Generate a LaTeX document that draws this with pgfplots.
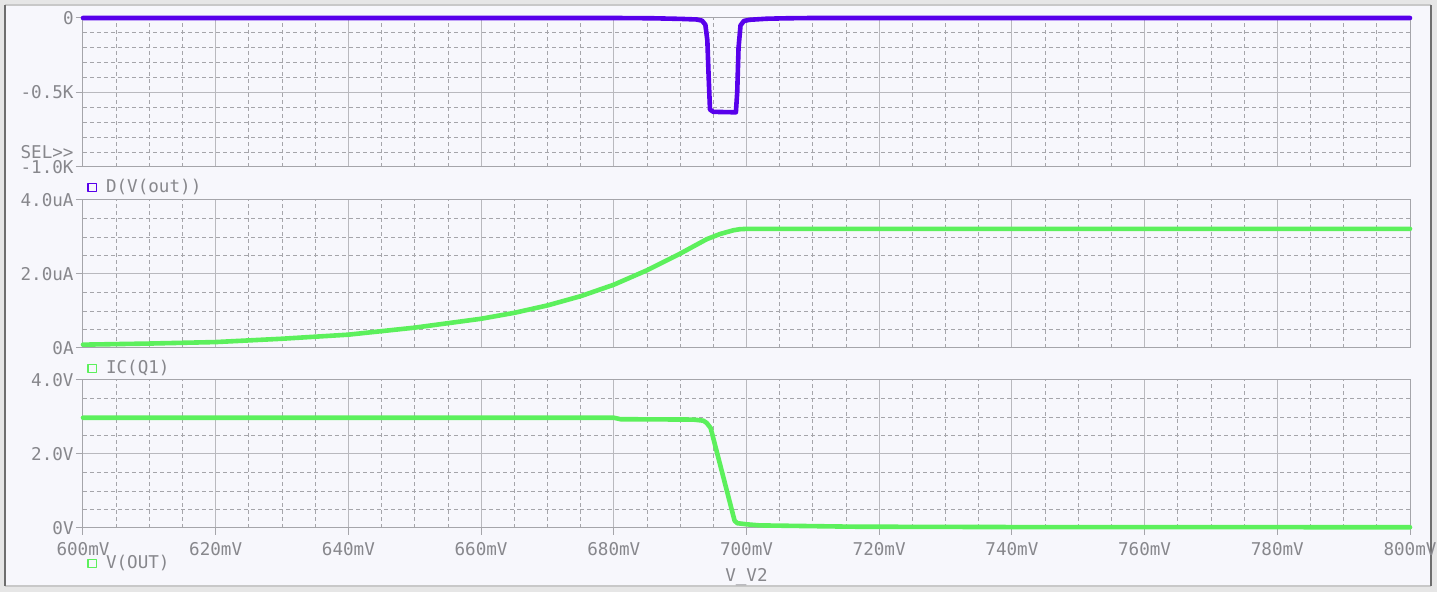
\documentclass[border=0pt]{standalone}
\usepackage{pgfplots}
\pgfplotsset{compat=1.18}
\usepackage{fontspec}
\setmonofont{DejaVu Sans Mono}
\definecolor{bgin}{RGB}{247,247,252}
\definecolor{bgout}{RGB}{230,230,230}
\definecolor{frameD}{RGB}{110,110,110}
\definecolor{frameL}{RGB}{200,200,200}
\definecolor{txt}{RGB}{135,135,140}
\definecolor{axl}{RGB}{165,165,170}
\definecolor{majg}{RGB}{185,185,190}
\definecolor{ming}{RGB}{165,165,170}
\definecolor{cpurple}{RGB}{88,0,235}
\definecolor{cgreen}{RGB}{92,240,92}
\newcommand{\lab}{\ttfamily\fontsize{8.8}{10}\selectfont}
\pgfplotsset{
  panel/.style={
    scale only axis, width=663.5pt, height=74.5pt,
    xmin=600, xmax=800, xtick={600,620,...,800}, minor x tick num=3,
    axis line style={axl, line width=0.5pt},
    grid=both,
    major grid style={majg, line width=0.5pt, solid},
    minor grid style={ming, line width=0.4pt, dash pattern=on 2pt off 1.5pt},
    tick align=outside, major tick length=3.5pt, minor tick length=0pt,
    tick style={axl, line width=0.5pt},
    ytick pos=left, xtick pos=bottom,
    ticklabel style={font=\lab, text=txt},
    yticklabel style={inner sep=1pt},
    clip=false,
    legend style={at={(axis description cs:0,0)}, anchor=north west, draw=none, fill=none,
      font=\lab, text=txt, xshift=1pt, yshift=-3pt, inner sep=1pt, /tikz/column sep=2.5pt},
    legend image code/.code={\draw[#1, line width=0.6pt, solid] (0pt,-2.1pt) rectangle (4.2pt,2.1pt);},
    legend cell align=left,
  },
  every axis plot/.append style={line width=2.3pt, line join=round, line cap=round, mark=none},
}
\begin{document}
\begin{tikzpicture}[x=1pt,y=1pt]
\useasboundingbox (0,0) rectangle (718.5,296);
\fill[bgout] (0,0) rectangle (718.5,296);
\fill[bgin] (2.5,3) rectangle (715.5,293.5);
\draw[frameL, line width=0.8pt] (2.5,293.5) -- (715.5,293.5);
\draw[frameL, line width=0.8pt] (2.5,3) -- (715.5,3);
\draw[frameD, line width=0.8pt] (2.5,3) -- (2.5,293.5);
\draw[frameD, line width=1.2pt] (715.5,3) -- (715.5,293.5);

% top panel
\begin{axis}[panel, at={(41.5pt,212.5pt)}, anchor=south west, height=74.5pt,
  ymin=-1000, ymax=0, ytick={-1000,-500,0}, yticklabels={-1.0K,-0.5K,0}, minor y tick num=4,
  xticklabels={}, xtick style={draw=none}]
\addplot[cpurple] coordinates {
 (600,0) (680,0) (686,-2) (690,-6) (692.5,-10) (693.3,-18) (693.8,-45) (694.1,-150) (694.3,-400) (694.5,-615)
 (695,-630) (698.4,-633) (698.6,-500) (698.8,-200) (699.1,-50) (699.6,-20) (700.5,-12) (703,-5) (706,-2) (710,0) (800,0)};
\addlegendentry{D(V(out))}
\node[font=\lab, text=txt, anchor=east, inner sep=1pt] at ([xshift=-3.5pt,yshift=7.5pt]axis description cs:0,0) {SEL>>};
\end{axis}

% middle panel
\begin{axis}[panel, at={(41.5pt,122pt)}, anchor=south west, height=74pt,
  ymin=0, ymax=4, ytick={0,2,4}, yticklabels={0A,2.0uA,4.0uA}, minor y tick num=3,
  xticklabels={}, xtick style={draw=none}]
\addplot[cgreen] coordinates {
 (600,0.09) (610,0.12) (620,0.16) (630,0.25) (640,0.36) (650,0.55) (660,0.79) (665,0.95)
 (670,1.15) (675,1.40) (680,1.71) (685,2.10) (690,2.55) (694,2.94) (696,3.08) (698,3.18)
 (699,3.21) (700,3.22) (800,3.22)};
\addlegendentry{IC(Q1)}
\end{axis}

% bottom panel
\begin{axis}[panel, at={(41.5pt,32pt)}, anchor=south west, height=74pt,
  ymin=0, ymax=4, ytick={0,2,4}, yticklabels={0V,2.0V,4.0V}, minor y tick num=3,
  xticklabels={600mV,620mV,640mV,660mV,680mV,700mV,720mV,740mV,760mV,780mV,800mV},
  xlabel={V\_V2}, xlabel style={font=\lab, text=txt, at={(axis description cs:0.5,0)}, anchor=center, yshift=-24.5pt},
  legend style={yshift=-7.5pt}]
\addplot[cgreen] coordinates {
 (600,2.98) (680,2.98) (681,2.94) (692,2.93) (693.5,2.90) (694,2.84) (694.6,2.70)
 (698.2,0.20) (698.6,0.13) (700,0.10) (702,0.07) (710,0.05) (716,0.035) (740,0.025) (800,0.02)};
\addlegendentry{V(OUT)}
\end{axis}
\end{tikzpicture}
\end{document}
